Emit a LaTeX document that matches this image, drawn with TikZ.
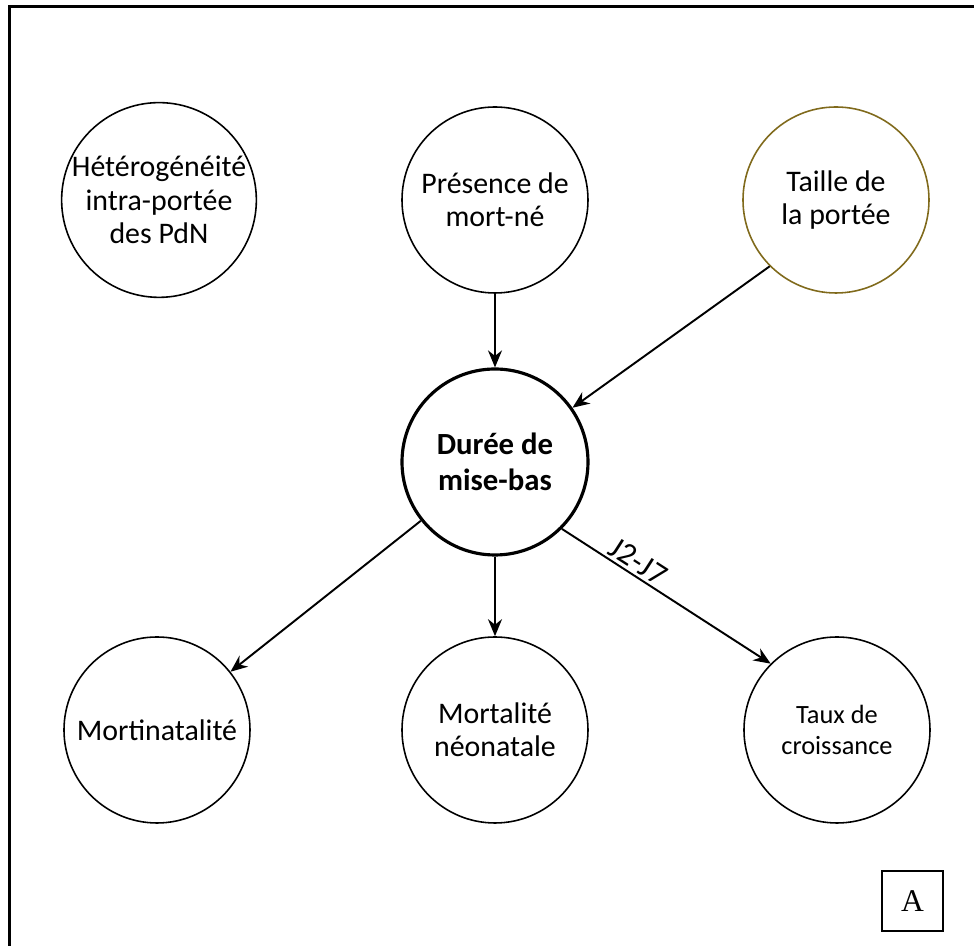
\documentclass[tikz,border=0pt]{standalone}
\usepackage{fontspec}
\setmainfont{Carlito}
\newfontfamily\serifA{Liberation Serif}
\usepackage{tikz}
\usetikzlibrary{arrows.meta, positioning}
\definecolor{olivegold}{RGB}{128,106,28}

\begin{document}
\begin{tikzpicture}[
    factor/.style={circle, draw=black, line width=0.9pt, minimum size=3.72cm, inner sep=0pt, align=center, font=\fontsize{17}{19}\selectfont},
    central/.style={factor, line width=1.8pt, font=\fontsize{17.5}{20.5}\selectfont\bfseries},
    conn/.style={-{Stealth[length=3.4mm, width=2.8mm]}, line width=1.1pt, black}
]
\useasboundingbox (-9.9,9.24) rectangle (9.58,-9.68);
\clip (-9.9,9.24) rectangle (9.58,-9.68);
\draw[line width=1.3pt] (-9.71,9.11) rectangle (10.5,-10.5);

\node[central] (DUREE) at (0,0) {Durée de\\mise-bas};
\node[factor] (HETERO) at (-6.72,5.24) {Hétérogénéité\\intra-portée\\des PdN};
\node[factor] (MORTNE) at (0,5.24) {Présence de\\mort-né};
\node[factor, draw=olivegold] (TAILLE) at (6.82,5.24) {Taille de\\la portée};
\node[factor] (MORTINAT) at (-6.76,-5.36) {Mortinatalité};
\node[factor] (NEONAT) at (0,-5.36) {Mortalité\\néonatale};
\node[factor, font=\fontsize{15}{17.5}\selectfont] (CROISS) at (6.84,-5.36) {Taux de\\croissance};

\node[draw=black, line width=0.6pt, minimum width=1.22cm, minimum height=1.2cm, font=\serifA\fontsize{18}{20}\selectfont] (LABEL) at (8.35,-8.78) {A};

\draw[conn] (MORTNE) -- (DUREE);
\draw[conn] (TAILLE.225) -- (DUREE.35);
\draw[conn] (DUREE) -- (MORTINAT);
\draw[conn] (DUREE) -- (NEONAT);
\draw[conn] (DUREE.-45) -- node[pos=0.33, above, sloped, inner sep=1.5pt, font=\fontsize{18}{20}\selectfont] {J2-J7} (CROISS.135);
\end{tikzpicture}
\end{document}
